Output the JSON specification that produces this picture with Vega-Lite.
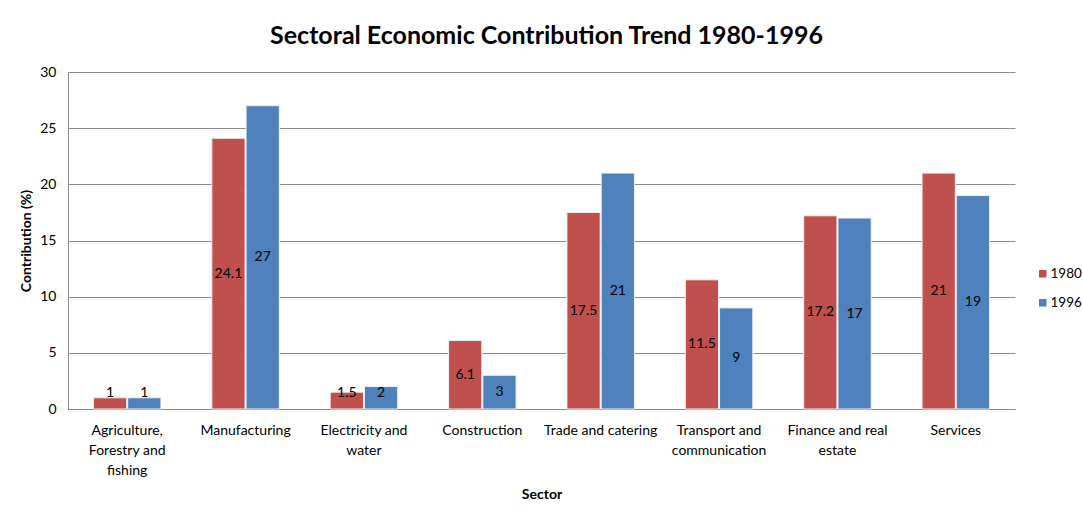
{
  "$schema": "https://vega.github.io/schema/vega-lite/v6.json",
  "width": 947,
  "height": 337,
  "autosize": {"type": "none"},
  "padding": {"left": 68, "top": 72, "right": 68, "bottom": 114},
  "background": "white",
  "config": {
    "font": "Lato",
    "view": {"stroke": null}
  },
  "title": {
    "text": "Sectoral Economic Contribution Trend 1980-1996",
    "font": "Lato",
    "fontSize": 25,
    "fontWeight": "bold",
    "color": "#000000",
    "anchor": "middle",
    "dx": 5,
    "offset": 16
  },
  "data": {
    "values": [
      {"sector": "Agriculture, Forestry and fishing", "year": "1980", "value": 1},
      {"sector": "Agriculture, Forestry and fishing", "year": "1996", "value": 1},
      {"sector": "Manufacturing", "year": "1980", "value": 24.1},
      {"sector": "Manufacturing", "year": "1996", "value": 27},
      {"sector": "Electricity and water", "year": "1980", "value": 1.5},
      {"sector": "Electricity and water", "year": "1996", "value": 2},
      {"sector": "Construction", "year": "1980", "value": 6.1},
      {"sector": "Construction", "year": "1996", "value": 3},
      {"sector": "Trade and catering", "year": "1980", "value": 17.5},
      {"sector": "Trade and catering", "year": "1996", "value": 21},
      {"sector": "Transport and communication", "year": "1980", "value": 11.5},
      {"sector": "Transport and communication", "year": "1996", "value": 9},
      {"sector": "Finance and real estate", "year": "1980", "value": 17.2},
      {"sector": "Finance and real estate", "year": "1996", "value": 17},
      {"sector": "Services", "year": "1980", "value": 21},
      {"sector": "Services", "year": "1996", "value": 19}
    ]
  },
  "encoding": {
    "x": {
      "field": "sector",
      "type": "nominal",
      "sort": null,
      "title": "Sector",
      "scale": {"paddingInner": 0.43, "paddingOuter": 0.215},
      "axis": {
        "labelAngle": 0,
        "labelFont": "Lato",
        "labelFontSize": 14,
        "labelColor": "#000000",
        "labelLineHeight": 20,
        "labelPadding": 14,
        "labelLimit": 200,
        "labelExpr": "datum.label == 'Agriculture, Forestry and fishing' ? ['Agriculture,', 'Forestry and', 'fishing'] : datum.label == 'Electricity and water' ? ['Electricity and', 'water'] : datum.label == 'Transport and communication' ? ['Transport and', 'communication'] : datum.label == 'Finance and real estate' ? ['Finance and real', 'estate'] : datum.label",
        "ticks": false,
        "domainColor": "#8c8c8c",
        "titleFont": "Lato",
        "titleFontSize": 14,
        "titleFontWeight": "bold",
        "titleColor": "#000000",
        "titlePadding": 10
      }
    }
  },
  "layer": [
    {
      "mark": {"type": "bar", "stroke": "#f0f0f0", "strokeWidth": 1},
      "encoding": {
        "xOffset": {"field": "year", "type": "nominal", "scale": {"paddingInner": 0.03}},
        "y": {
          "field": "value",
          "type": "quantitative",
          "title": "Contribution (%)",
          "scale": {"domain": [0, 30], "nice": false},
          "axis": {
            "values": [0, 5, 10, 15, 20, 25, 30],
            "ticks": false,
            "labelFont": "Lato",
            "labelFontSize": 14,
            "labelColor": "#000000",
            "labelPadding": 12,
            "gridColor": "#8c8c8c",
            "domain": true,
            "domainColor": "#8c8c8c",
            "titleFont": "Lato",
            "titleFontSize": 14,
            "titleFontWeight": "bold",
            "titleColor": "#000000",
            "titlePadding": 6
          }
        },
        "color": {
          "field": "year",
          "type": "nominal",
          "title": null,
          "scale": {"domain": ["1980", "1996"], "range": ["#C0504D", "#4F81BD"]},
          "legend": {
            "orient": "none",
            "legendX": 968,
            "legendY": 195,
            "padding": 0,
            "symbolType": "square",
            "symbolSize": 56,
            "symbolStrokeWidth": 0,
            "labelFont": "Lato",
            "labelFontSize": 13.5,
            "labelColor": "#000000",
            "labelLimit": 60,
            "rowPadding": 14,
            "labelOffset": 1
          }
        }
      }
    },
    {
      "transform": [{"calculate": "max(datum.value / 2, 1.45)", "as": "labelPos"}],
      "mark": {"type": "text", "font": "Lato", "fontSize": 14, "color": "#000000", "baseline": "middle"},
      "encoding": {
        "xOffset": {"field": "year", "type": "nominal", "scale": {"paddingInner": 0.03}},
        "y": {"field": "labelPos", "type": "quantitative"},
        "text": {"field": "value", "type": "quantitative"}
      }
    }
  ]
}
